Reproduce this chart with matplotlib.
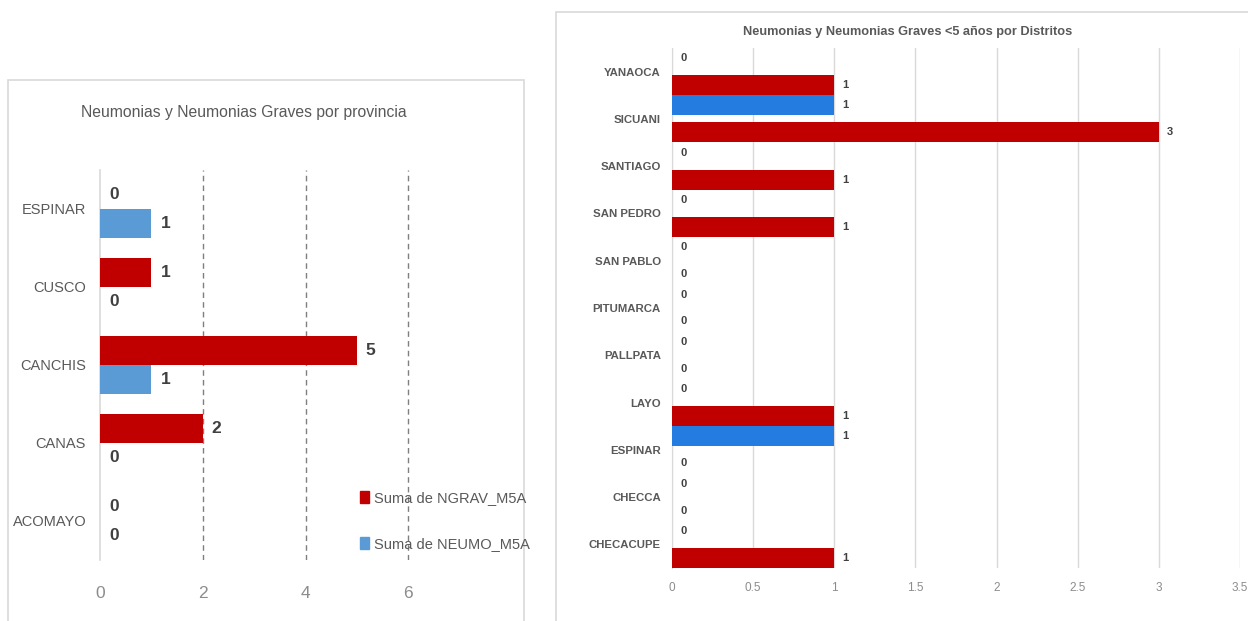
import matplotlib
matplotlib.use("Agg")
import matplotlib.pyplot as plt
from matplotlib.patches import Rectangle, Patch
import numpy as np

# provincias, de abajo hacia arriba
provincias = ["ACOMAYO", "CANAS", "CANCHIS", "CUSCO", "ESPINAR"]
prov_ngrav = [0, 2, 5, 1, 0]
prov_neumo = [0, 0, 1, 0, 1]

# distritos, de abajo hacia arriba
distritos = ["CHECACUPE", "CHECCA", "ESPINAR", "LAYO", "PALLPATA", "PITUMARCA",
             "SAN PABLO", "SAN PEDRO", "SANTIAGO", "SICUANI", "YANAOCA"]
dist_ngrav = [1, 0, 0, 1, 0, 0, 0, 1, 1, 3, 1]
dist_neumo = [0, 0, 1, 0, 0, 0, 0, 0, 0, 1, 0]

prov_ticks = [0, 2, 4, 6]
dist_ticks = [0, 0.5, 1, 1.5, 2, 2.5, 3, 3.5]

ROJO = "#C00000"
AZUL_PROV = "#5B9BD5"
AZUL_DIST = "#247BE0"
GRIS = "#595959"
SANS = ["Liberation Sans", "DejaVu Sans"]

W, H = 1248, 621
fig = plt.figure(figsize=(W / 100, H / 100), dpi=100)


def fx(px):
    return px / W


def fy(py):
    return 1 - py / H


# marcos de los dos graficos
fig.patches.append(Rectangle((fx(8), fy(640)), fx(516), fy(80) - fy(640),
                             transform=fig.transFigure, fill=False,
                             edgecolor="#d9d9d9", linewidth=1.2))
fig.patches.append(Rectangle((fx(556), fy(640)), fx(720), fy(12) - fy(640),
                             transform=fig.transFigure, fill=False,
                             edgecolor="#d9d9d9", linewidth=1.2))

# ---------- grafico por provincia ----------
ax1 = fig.add_axes([fx(100), fy(560), fx(511) - fx(100), fy(170) - fy(560)])
y1 = np.arange(len(provincias))
h1 = 0.375
ax1.barh(y1 + h1 / 2, prov_ngrav, height=h1, color=ROJO, zorder=3)
ax1.barh(y1 - h1 / 2, prov_neumo, height=h1, color=AZUL_PROV, zorder=3)
for yy, v in list(zip(y1 + h1 / 2, prov_ngrav)) + list(zip(y1 - h1 / 2, prov_neumo)):
    ax1.annotate(str(v), (v, yy), xytext=(6.5, 0), textcoords="offset points",
                 ha="left", va="center", fontsize=12.5, fontweight="bold",
                 color="#404040", family=SANS)

ax1.set_xlim(0, 8)
ax1.set_ylim(-0.5, len(provincias) - 0.5)
ax1.set_xticks(prov_ticks)
ax1.set_xticklabels([str(t) for t in prov_ticks], family=SANS, fontsize=12.5,
                    color="#8c8c8c")
ax1.set_yticks(y1)
ax1.set_yticklabels(provincias, family=SANS, fontsize=10.5, color=GRIS)
ax1.tick_params(length=0)
ax1.tick_params(axis="y", pad=10)
ax1.tick_params(axis="x", pad=19)
for s in ["top", "right", "bottom"]:
    ax1.spines[s].set_visible(False)
ax1.spines["left"].set_color("#d9d9d9")
ax1.spines["left"].set_linewidth(1.2)
for t in prov_ticks[1:]:
    ax1.axvline(t, color="#7f7f7f", linewidth=1, linestyle=(0, (4, 3)), zorder=1)

fig.text(fx(244), fy(112), "Neumonias y Neumonias Graves por provincia",
         ha="center", va="center", fontsize=11.3, color=GRIS, family=SANS)

leg = fig.legend(handles=[Patch(color=ROJO, label="Suma de NGRAV_M5A"),
                          Patch(color=AZUL_PROV, label="Suma de NEUMO_M5A")],
                 loc="upper left", bbox_to_anchor=(fx(347), fy(478)),
                 frameon=False, prop={"family": SANS, "size": 10.5},
                 handlelength=0.6, handleheight=0.9, handletextpad=0.35,
                 labelspacing=2.2)
for t in leg.get_texts():
    t.set_color(GRIS)

# ---------- grafico por distritos ----------
ax2 = fig.add_axes([fx(672), fy(568), fx(1240) - fx(672), fy(48) - fy(568)])
y2 = np.arange(len(distritos))
h2 = 0.423
off = 0.285
ax2.barh(y2 + off, dist_neumo, height=h2, color=AZUL_DIST, zorder=3)
ax2.barh(y2 - off, dist_ngrav, height=h2, color=ROJO, zorder=3)
for yy, v in list(zip(y2 + off, dist_neumo)) + list(zip(y2 - off, dist_ngrav)):
    ax2.annotate(str(v), (v, yy), xytext=(6, 0), textcoords="offset points",
                 ha="left", va="center", fontsize=8, fontweight="bold",
                 color="#404040", family=SANS)

ax2.set_xlim(0, 3.5)
ax2.set_ylim(-0.5, len(distritos) - 0.5)
ax2.set_xticks(dist_ticks)
ax2.set_xticklabels([f"{t:g}" for t in dist_ticks], family=SANS, fontsize=8.5,
                    color="#8c8c8c")
ax2.set_yticks(y2)
ax2.set_yticklabels(distritos, family=SANS, fontsize=8.2, fontweight="bold",
                    color=GRIS)
ax2.tick_params(length=0)
ax2.tick_params(axis="y", pad=8)
ax2.tick_params(axis="x", pad=10)
for s in ["top", "right", "bottom"]:
    ax2.spines[s].set_visible(False)
ax2.spines["left"].set_color("#d9d9d9")
ax2.xaxis.grid(True, color="#d9d9d9", linewidth=1, zorder=0)
ax2.set_axisbelow(True)

fig.text(fx(908), fy(32), "Neumonias y Neumonias Graves <5 años por Distritos",
         ha="center", va="center", fontsize=9.2, fontweight="bold", color=GRIS,
         family=SANS)

fig.savefig("out.png", dpi=100)
